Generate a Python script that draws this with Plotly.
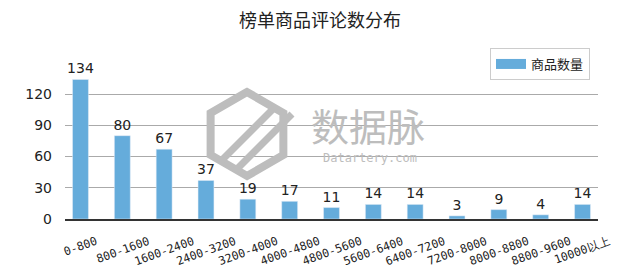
import plotly.graph_objects as go
import math

categories = ["0-800", "800-1600", "1600-2400", "2400-3200", "3200-4000", "4000-4800",
              "4800-5600", "5600-6400", "6400-7200", "7200-8000", "8000-8800", "8800-9600", "10000以上"]
counts = [134, 80, 67, 37, 19, 17, 11, 14, 14, 3, 9, 4, 14]
series_name = "商品数量"
title = "榜单商品评论数分布"

L, R, T, B = 65, 598, 68, 219
PW, PH = R - L, B - T

def px(x):
    return (x - L) / PW

def py(y):
    return (B - y) / PH

BAR = "#65acdb"
fig = go.Figure()
fig.add_trace(go.Bar(
    x=categories, y=counts, name=series_name, showlegend=False,
    marker=dict(color=BAR),
    width=0.38,
    text=[str(v) for v in counts], textposition="outside",
    textfont=dict(family="DejaVu Sans", size=14, color="#222"),
    cliponaxis=False, constraintext="none",
))
fig.add_trace(go.Scatter(
    x=[None], y=[None], mode="lines", name=series_name,
    line=dict(color=BAR, width=10),
))

# watermark logo
WM = "#bdbdbd"
cx, cy, r = 247, 134, 42
pts = []
for k in range(6):
    a = math.radians(90 + 60 * k)
    pts.append((cx + r * math.cos(a), cy - r * math.sin(a)))
path = "M " + " L ".join(f"{px(x):.4f},{py(y):.4f}" for x, y in pts) + " Z"
fig.add_shape(type="path", path=path, xref="paper", yref="paper",
              line=dict(color=WM, width=8), layer="above")
for (x0, y0, x1, y1) in [(222, 160, 274, 108), (236, 170, 292, 114)]:
    fig.add_shape(type="line", x0=px(x0), y0=py(y0), x1=px(x1), y1=py(y1),
                  xref="paper", yref="paper", line=dict(color=WM, width=7), layer="above")

annotations = [
    dict(text="数据脉", x=px(368), y=py(124), xref="paper", yref="paper",
         showarrow=False, font=dict(family="Noto Sans CJK SC", size=38, color=WM)),
    dict(text="Datartery.com", x=px(370), y=py(158), xref="paper", yref="paper",
         showarrow=False, font=dict(family="DejaVu Sans Mono", size=12, color=WM)),
]
# rotated category labels, centred under each bar
for c in categories:
    annotations.append(dict(text=c, x=c, xref="x", y=py(231), yref="paper",
                            xanchor="center", yanchor="top", textangle=-20,
                            showarrow=False,
                            font=dict(family="DejaVu Sans Mono", size=11.5, color="#222")))

fig.update_layout(
    width=640, height=272,
    margin=dict(l=L, r=640 - R, t=T, b=272 - B),
    paper_bgcolor="white", plot_bgcolor="white",
    title=dict(text=title, x=0.5, xref="container", xanchor="center", y=0.925, yanchor="middle",
               font=dict(family="Noto Sans CJK SC", size=18, color="#222")),
    showlegend=True,
    legend=dict(x=px(590), xanchor="right", y=py(48), yanchor="top",
                bordercolor="#ccc", borderwidth=1, bgcolor="white",
                itemwidth=30, tracegroupgap=0,
                font=dict(family="Noto Sans CJK SC", size=13, color="#222")),
    xaxis=dict(range=[-0.37, 12.37], showticklabels=False,
               showline=True, linecolor="#333", linewidth=1.5, ticks="", showgrid=False),
    yaxis=dict(range=[0, 145], tickvals=[0, 30, 60, 90, 120], showgrid=True,
               gridcolor="#aaa", gridwidth=1, zeroline=False,
               tickfont=dict(family="DejaVu Sans", size=14, color="#222"),
               ticks="", showline=False, ticklabelstandoff=12),
    annotations=annotations,
)
fig.write_html("out.html")
